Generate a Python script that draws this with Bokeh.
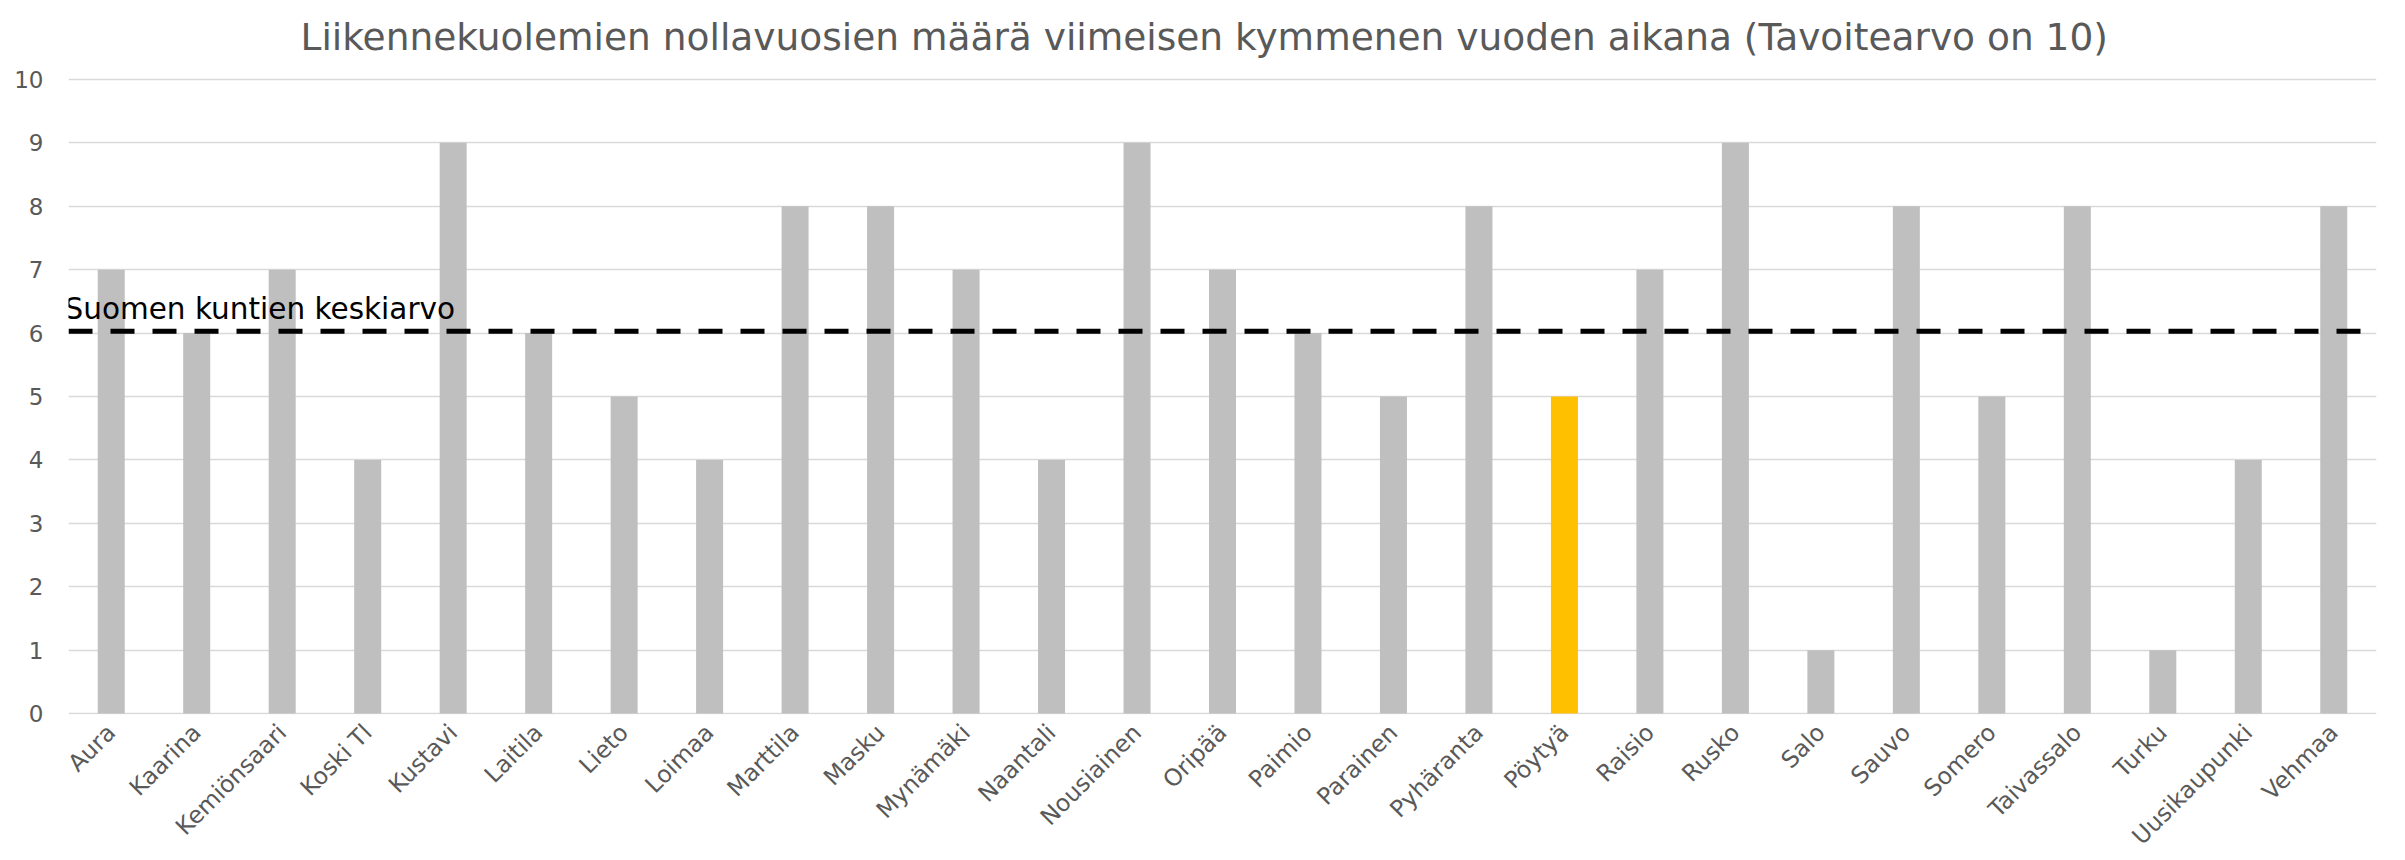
import math
from bokeh.plotting import figure
from bokeh.models import FactorRange, Range1d, Span, Label, FixedTicker
from bokeh.embed import file_html
from bokeh.resources import INLINE

# ---- data ----
municipalities = ["Aura", "Kaarina", "Kemiönsaari", "Koski Tl", "Kustavi", "Laitila", "Lieto",
                  "Loimaa", "Marttila", "Masku", "Mynämäki", "Naantali", "Nousiainen", "Oripää",
                  "Paimio", "Parainen", "Pyhäranta", "Pöytyä", "Raisio", "Rusko", "Salo", "Sauvo",
                  "Somero", "Taivassalo", "Turku", "Uusikaupunki", "Vehmaa"]
zero_years = [7, 6, 7, 4, 9, 6, 5, 4, 8, 8, 7, 4, 9, 7, 6, 5, 8, 5, 7, 9, 1, 8, 5, 8, 1, 4, 8]
highlight = "Pöytyä"
national_average = 6.03
average_label = "Suomen kuntien keskiarvo"
title_text = "Liikennekuolemien nollavuosien määrä viimeisen kymmenen vuoden aikana (Tavoitearvo on 10)"
y_ticks = [0, 1, 2, 3, 4, 5, 6, 7, 8, 9, 10]
y_max = 10

GRAY = "#BFBFBF"
GOLD = "#FFC000"
colors = [GOLD if m == highlight else GRAY for m in municipalities]

FONT = "DejaVu Sans"

# frame extends above the value 10 so the chart title can sit inside it
p = figure(frame_width=2308, frame_height=714,
           x_range=FactorRange(*municipalities), y_range=Range1d(-0.015, 11.245),
           output_backend="svg", toolbar_location=None,
           min_border_left=68, min_border_right=29, min_border_top=0, min_border_bottom=120)

p.add_layout(Label(x=0, y=y_max, x_offset=232, y_offset=42,
                   text=title_text, text_font=FONT, text_font_size="37.5px",
                   text_color="#595959", text_baseline="alphabetic", text_align="left"))

p.vbar(x=municipalities, top=zero_years, width=0.316, color=colors, line_color=None)

avg = Span(location=national_average, dimension="width", line_color="black",
           line_width=5, line_dash="24 18")
p.add_layout(avg)
p.add_layout(Label(x=0, y=national_average, x_offset=-4, y_offset=22,
                   text=average_label, text_font=FONT, text_font_size="29.5px",
                   text_color="black", text_baseline="alphabetic", text_align="left"))

p.outline_line_color = None
p.background_fill_color = "white"
p.border_fill_color = "white"

p.xgrid.grid_line_color = None
p.ygrid.grid_line_color = "#D9D9D9"
p.ygrid.grid_line_width = 1.5
p.yaxis.ticker = FixedTicker(ticks=y_ticks)

for ax in (p.xaxis, p.yaxis):
    ax.axis_line_color = None
    ax.major_tick_line_color = None
    ax.minor_tick_line_color = None
    ax.major_tick_out = 0
    ax.major_tick_in = 0
    ax.minor_tick_out = 0
    ax.major_label_text_font = FONT
    ax.major_label_text_color = "#595959"

p.yaxis.major_label_text_font_size = "23px"
p.xaxis.major_label_text_font_size = "23.5px"
p.yaxis.major_label_standoff = 25
p.xaxis.major_label_orientation = math.pi / 4
p.xaxis.major_label_standoff = 14

open("out.html", "w").write(file_html(p, INLINE))
